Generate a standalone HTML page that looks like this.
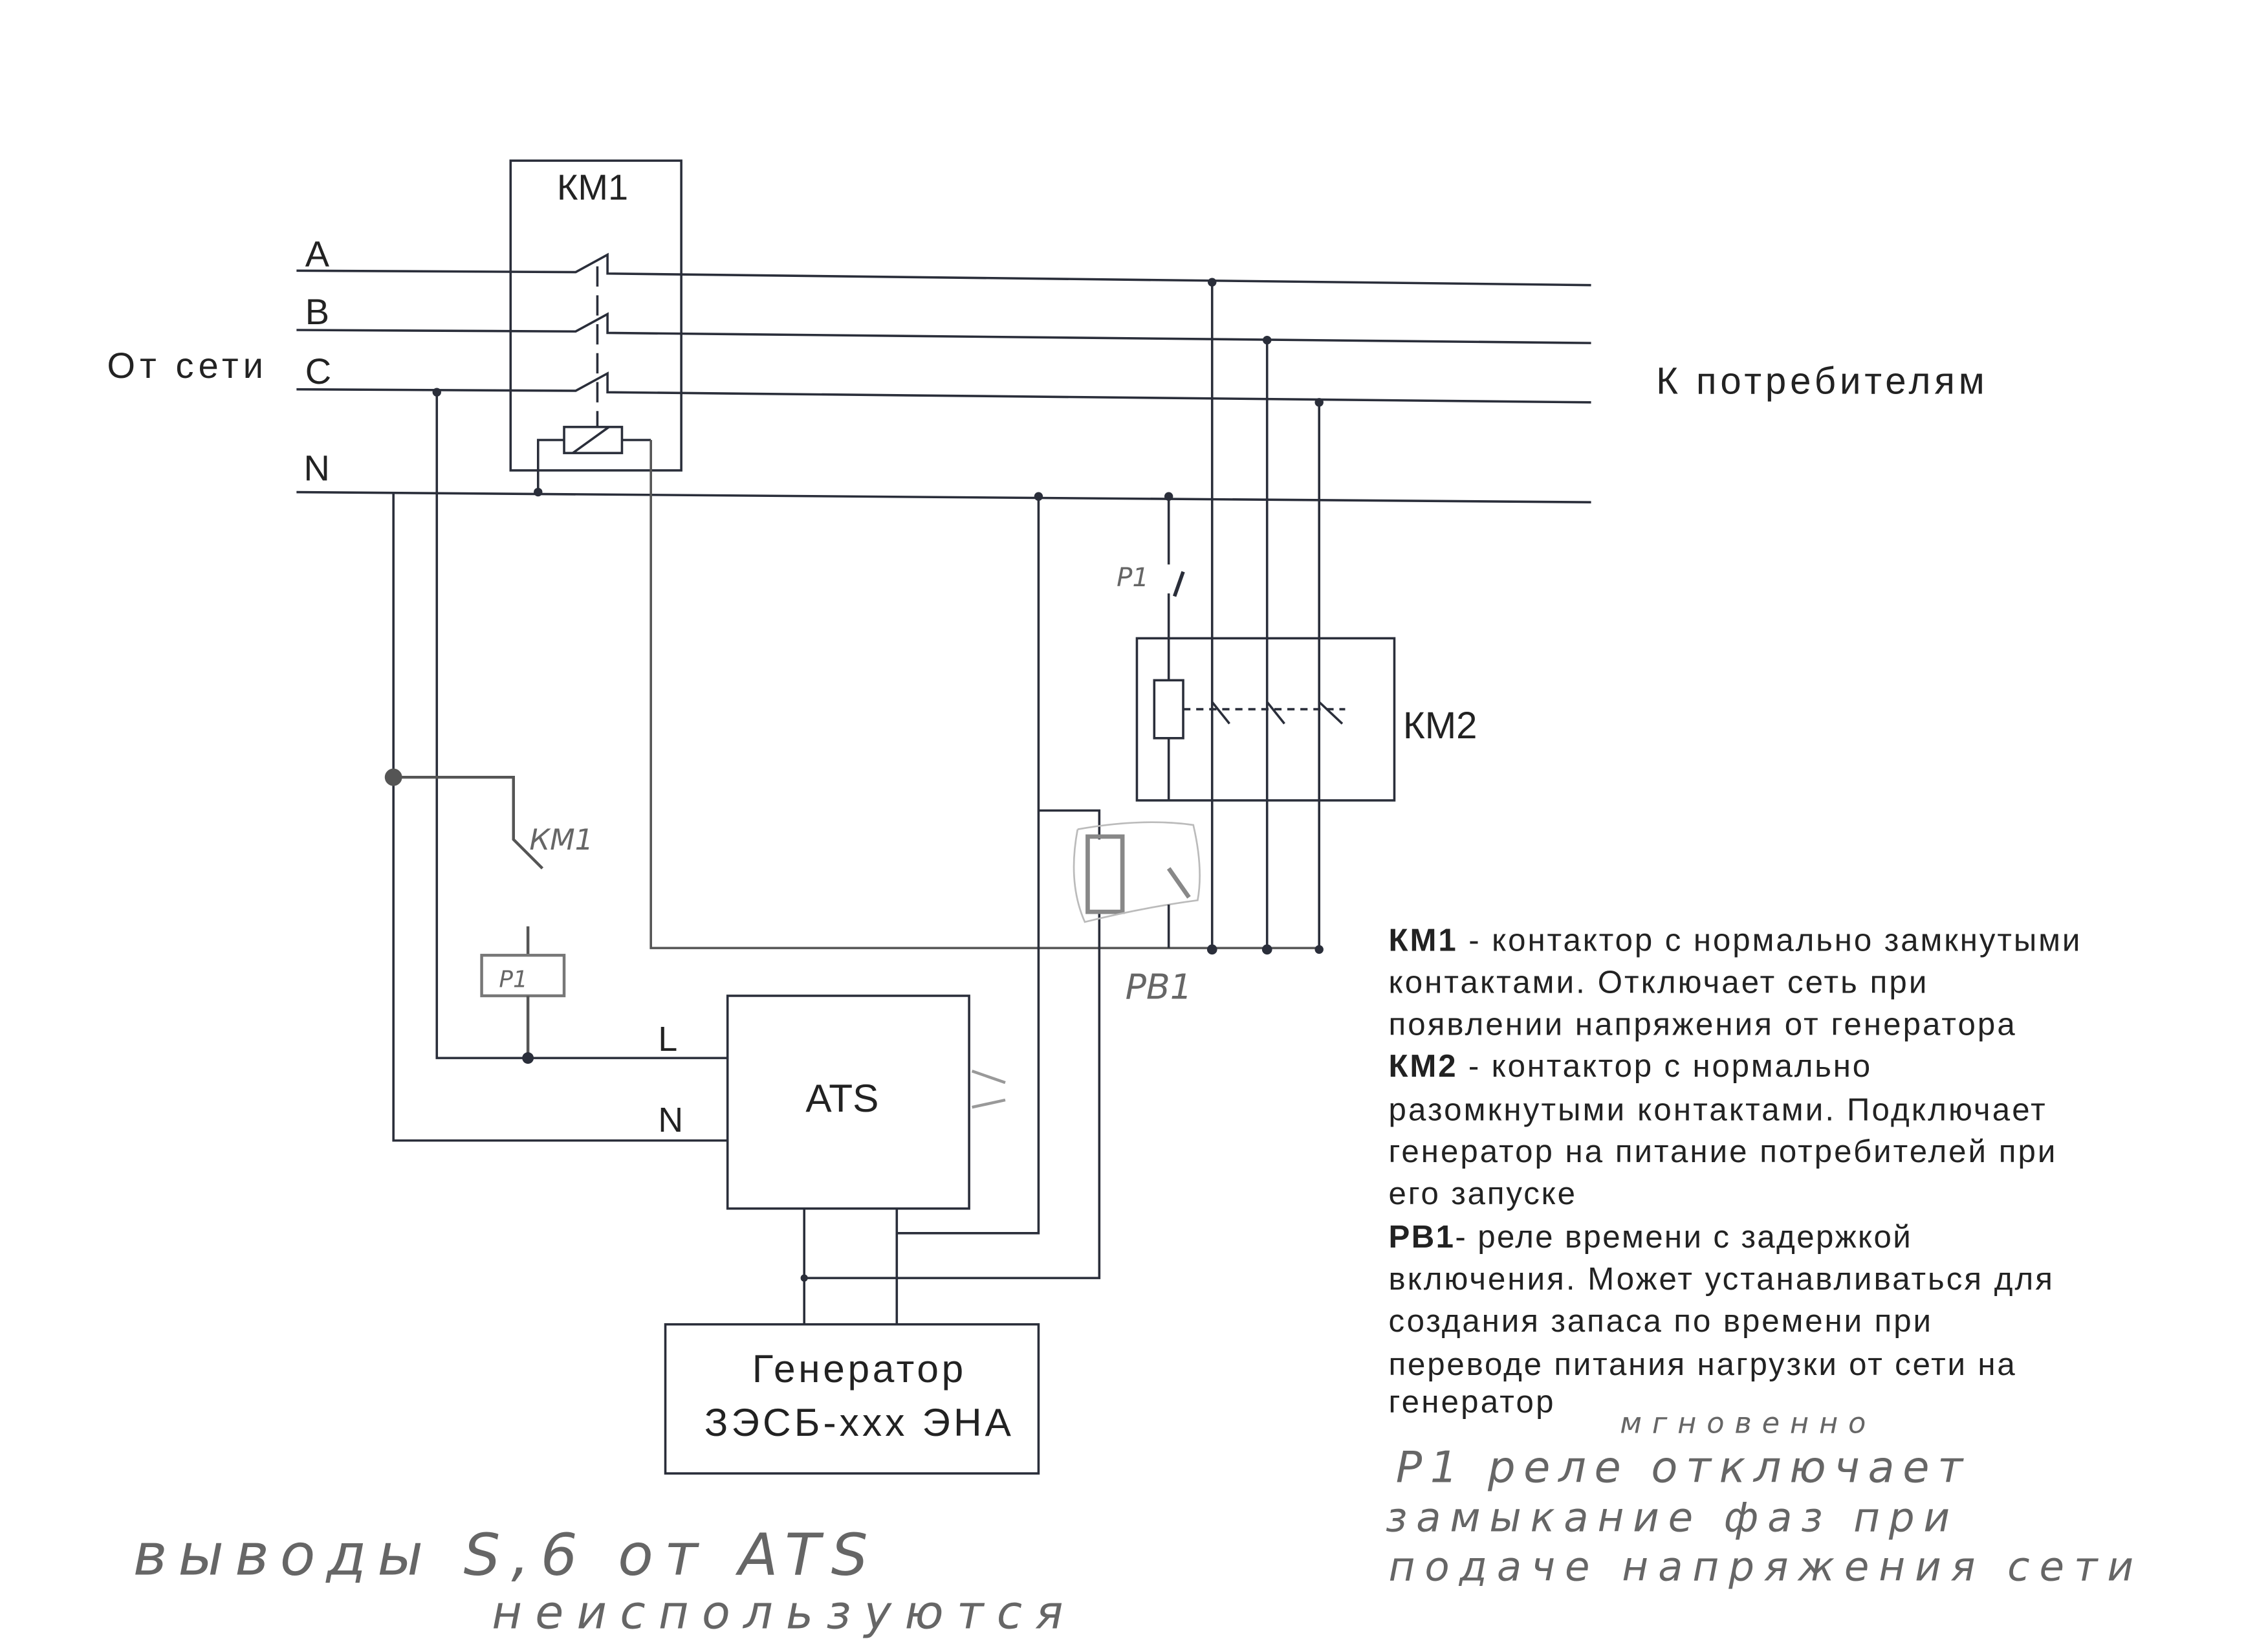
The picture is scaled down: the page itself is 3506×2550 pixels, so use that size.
<!DOCTYPE html>
<html><head><meta charset="utf-8"><style>
html,body{margin:0;padding:0;background:#fff;}
svg{display:block;}
text{font-family:"Liberation Sans","DejaVu Sans",sans-serif;fill:#222;}
.h{font-family:"DejaVu Sans","Liberation Sans",sans-serif;fill:#666;font-style:italic;}
</style></head><body>
<svg width="3506" height="2550" viewBox="0 0 1568 1140" preserveAspectRatio="none" xmlns="http://www.w3.org/2000/svg">
<g stroke="#2a2e3a" stroke-width="1.6" fill="none">
<rect x="353" y="111" width="118" height="214"/>
<path d="M205 187 L398 188 L420 176 L420 189 L1100 197"/>
<path d="M205 228 L398 229 L420 217 L420 230 L1100 237"/>
<path d="M205 269 L398 270 L420 258 L420 271 L1100 278"/>
<path d="M205 340 L1100 347"/>
<path d="M413 184 V295" stroke-dasharray="14,6"/>
<rect x="390" y="295" width="40" height="18"/>
<path d="M396 313 L421 295"/>
<path d="M390 304 H372 V340"/>
<path d="M430 304 H450"/>
<path d="M272 340 V788 H503"/>
<path d="M302 271 V731 H503"/>
<path d="M450 304 V655 H912" stroke="#555"/>
<path d="M718 343 V852 H620"/>
<path d="M838 195 V658"/>
<path d="M876 235 V658"/>
<path d="M912 278 V658"/>
<path d="M808 343 V390 M808 410 V470"/>
<path d="M818 395 L812 412" stroke-width="2.5"/>
<rect x="786" y="441" width="178" height="112"/>
<rect x="798" y="470" width="20" height="40"/>
<path d="M808 510 V553"/>
<path d="M838 485 L850 500 M876 485 L888 500 M912 485 L928 500"/>
<path d="M818 490 H930" stroke-dasharray="5,4"/>
<path d="M718 560 H760 V580 M760 630 V883 H556"/>
<rect x="752" y="578" width="24" height="52" stroke="#888" stroke-width="3"/>
<path d="M745 573 Q790 565 825 570 Q832 600 828 622 Q790 627 750 637 Q738 610 745 573" stroke="#bbb" stroke-width="1.2"/>
<path d="M808 600 L822 620" stroke="#888" stroke-width="3"/>
<path d="M808 625 V655"/>
<rect x="503" y="688" width="167" height="147"/>
<path d="M556 835 V915 M620 835 V915"/>
<rect x="460" y="915" width="258" height="103"/>
<path d="M272 537 H355 V580 L375 600 M365 640 V660" stroke="#555" stroke-width="2"/>
<rect x="333" y="660" width="57" height="28" stroke="#777" stroke-width="2"/>
<path d="M365 688 V731" stroke="#555" stroke-width="2"/>
<path d="M672 740 L695 748 M672 765 L695 760" stroke="#999" stroke-width="2"/>
</g>
<g fill="#2a2e3a">
<circle cx="372" cy="340" r="3"/><circle cx="302" cy="271" r="3"/><circle cx="718" cy="343" r="3"/>
<circle cx="808" cy="343" r="3"/><circle cx="838" cy="195" r="3"/><circle cx="876" cy="235" r="3"/>
<circle cx="912" cy="278" r="3"/><circle cx="838" cy="656" r="3.5"/><circle cx="876" cy="656" r="3.5"/>
<circle cx="912" cy="656" r="3"/><circle cx="272" cy="537" r="6" fill="#555"/><circle cx="365" cy="731" r="4"/>
<circle cx="556" cy="883" r="2.5"/>
</g>
<text x="385" y="138" font-size="25">КМ1</text>
<text x="211" y="184" font-size="25">A</text>
<text x="211" y="224" font-size="25">B</text>
<text x="211" y="265" font-size="25">C</text>
<text x="210" y="332" font-size="25">N</text>
<text x="74" y="261" font-size="25" textLength="108">От сети</text>
<text x="1145" y="272" font-size="26" textLength="227">К потребителям</text>
<text x="970" y="510" font-size="26">КМ2</text>
<text x="455" y="726" font-size="24">L</text>
<text x="455" y="782" font-size="24">N</text>
<text x="557" y="768" font-size="27">ATS</text>
<text x="520" y="955" font-size="27" textLength="146">Генератор</text>
<text x="487" y="992" font-size="27" textLength="212">ЗЭСБ-xxx ЭНА</text>
<text class="h" x="772" y="405" font-size="18">P1</text>
<text class="h" x="366" y="587" font-size="20">КМ1</text>
<text class="h" x="345" y="682" font-size="16">P1</text>
<text class="h" x="778" y="690" font-size="24">PB1</text>
<g font-size="22">
<text x="960" y="657" textLength="478"><tspan font-weight="bold">КМ1</tspan> - контактор с нормально замкнутыми</text>
<text x="960" y="686" textLength="372">контактами. Отключает сеть при</text>
<text x="960" y="715" textLength="433">появлении напряжения от генератора</text>
<text x="960" y="744" textLength="333"><tspan font-weight="bold">КМ2</tspan> - контактор с нормально</text>
<text x="960" y="774" textLength="454">разомкнутыми контактами. Подключает</text>
<text x="960" y="803" textLength="461">генератор на питание потребителей при</text>
<text x="960" y="832" textLength="129">его запуске</text>
<text x="960" y="862" textLength="361"><tspan font-weight="bold">РВ1</tspan>- реле времени с задержкой</text>
<text x="960" y="891" textLength="459">включения. Может устанавливаться для</text>
<text x="960" y="920" textLength="375">создания запаса по времени при</text>
<text x="960" y="950" textLength="433">переводе питания нагрузки от сети на</text>
<text x="960" y="976" textLength="114">генератор</text>
</g>
<text class="h" x="1120" y="990" font-size="20" textLength="170">мгновенно</text>
<text class="h" x="965" y="1024" font-size="30" textLength="392">P1 реле отключает</text>
<text class="h" x="958" y="1058" font-size="28" textLength="390">замыкание фаз при</text>
<text class="h" x="960" y="1092" font-size="28" textLength="515">подаче напряжения сети</text>
<text class="h" x="92" y="1088" font-size="40" textLength="508">выводы S,6 от ATS</text>
<text class="h" x="340" y="1125" font-size="32" textLength="395">неиспользуются</text>
</svg>
</body></html>
